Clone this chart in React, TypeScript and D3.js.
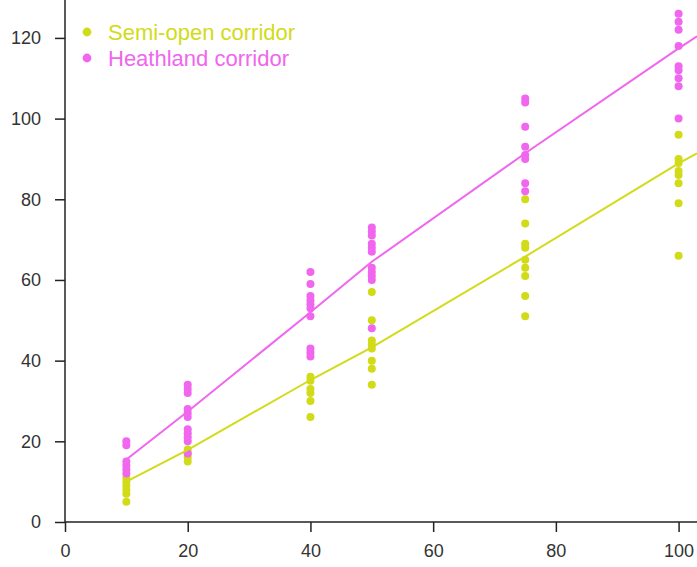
import React, { useEffect, useRef } from "react";
import * as d3 from "d3";

// distances sampled (x) and the counts recorded at each one
const xLevels = [10, 20, 40, 50, 75, 100];
const semiOpen = [
  [11, 10, 9, 8, 7, 5],
  [18, 17, 16, 15],
  [36, 35, 33, 32, 30, 26],
  [57, 50, 45, 44, 43, 40, 38, 34],
  [80, 74, 69, 68, 65, 63, 61, 56, 51],
  [96, 90, 89, 87, 86, 84, 79, 66],
];
const heathland = [
  [20, 19, 15, 14, 13, 12],
  [34, 33, 32, 28, 27, 26, 23, 22, 21, 20, 17],
  [62, 59, 56, 55, 54, 53, 51, 43, 42, 41],
  [73, 72, 71, 69, 68, 67, 63, 62, 61, 60, 48],
  [105, 104, 98, 93, 91, 90, 84, 82],
  [126, 124, 122, 118, 113, 112, 110, 108, 100],
];

// fitted curves
const fitX = [10, 20, 40, 50, 75, 100, 103];
const semiOpenFit = [10, 17.9, 35.2, 43.3, 65.8, 88.9, 91.4];
const heathlandFit = [15.5, 27.4, 52, 64.5, 91.4, 117.4, 120.4];

const xTicks = [0, 20, 40, 60, 80, 100];
const yTicks = [0, 20, 40, 60, 80, 100, 120];

const legendLabels = ["Semi-open corridor", "Heathland corridor"];
const colors = ["#d2db18", "#f066ef"];

const App = () => {
  const svgRef = useRef<SVGSVGElement>(null);

  useEffect(() => {
    const w = 697;
    const h = 567;
    const svg = d3.select(svgRef.current);
    svg.selectAll("*").remove();

    const x = d3.scaleLinear().domain([0, 103]).range([65, 697]);
    const y = d3.scaleLinear().domain([0, 129.4]).range([522, 0]);

    const font = "'Liberation Sans', Arial, sans-serif";

    // axes
    const xAxis = d3.axisBottom(x).tickValues(xTicks).tickSize(10).tickPadding(12);
    const gx = svg.append("g").attr("transform", `translate(0,${y(0)})`).call(xAxis);
    gx.select(".domain").attr("d", `M${x(0)},0H${w}`);

    const yAxis = d3.axisLeft(y).tickValues(yTicks).tickSize(10).tickPadding(14);
    const gy = svg.append("g").attr("transform", `translate(${x(0)},0)`).call(yAxis);
    gy.select(".domain").attr("d", `M0,0V${y(0)}`);

    [gx, gy].forEach((g) => {
      g.selectAll("path, line").attr("stroke", "#222").attr("stroke-width", 1.5);
      g.selectAll("text")
        .attr("fill", "#333")
        .style("font-family", font)
        .style("font-size", "18px");
    });

    // points
    [semiOpen, heathland].forEach((series, i) => {
      const pts: [number, number][] = [];
      series.forEach((vals, j) => vals.forEach((v) => pts.push([xLevels[j], v])));
      svg
        .append("g")
        .selectAll("circle")
        .data(pts)
        .enter()
        .append("circle")
        .attr("cx", (d) => x(d[0]))
        .attr("cy", (d) => y(d[1]))
        .attr("r", 4)
        .attr("fill", colors[i]);
    });

    // fitted lines
    const line = d3
      .line<number>()
      .x((d, i) => x(fitX[i]))
      .y((d) => y(d));
    [semiOpenFit, heathlandFit].forEach((fit, i) => {
      svg
        .append("path")
        .attr("d", line(fit))
        .attr("fill", "none")
        .attr("stroke", colors[i])
        .attr("stroke-width", 2);
    });

    // legend
    const lg = svg.append("g");
    legendLabels.forEach((lab, i) => {
      lg.append("circle")
        .attr("cx", 87)
        .attr("cy", 32 + i * 26)
        .attr("r", 4.4)
        .attr("fill", colors[i]);
      lg.append("text")
        .attr("x", 108)
        .attr("y", 32 + i * 26)
        .attr("dy", "0.36em")
        .attr("fill", colors[i])
        .style("font-family", font)
        .style("font-size", "22px")
        .text(lab);
    });

    svg.attr("width", w).attr("height", h);
  }, []);

  return (
    <div id="svg-data">
      <svg
        ref={svgRef}
        width={697}
        height={567}
        style={{ position: "absolute", left: 0, top: 0, background: "#fff" }}
      ></svg>
    </div>
  );
};

export default App;
